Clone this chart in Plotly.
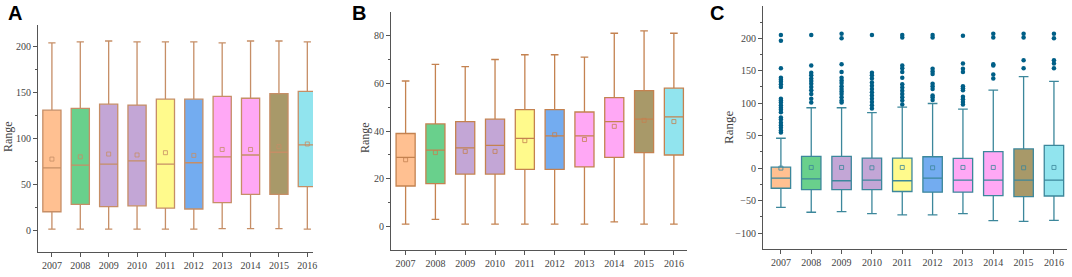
import plotly.graph_objects as go

years = ['2007', '2008', '2009', '2010', '2011', '2012', '2013', '2014', '2015', '2016']

# Panel A statistics
A_low = [1, 1, 1, 1, 1, 1, 1.5, 1.5, 1.5, 1]
A_q1 = [20, 28, 25.5, 26.5, 24, 23, 30, 39, 39, 47.5]
A_med = [68, 71, 72, 75.5, 72, 73.5, 80, 82, 85, 93]
A_q3 = [131, 133, 137.5, 136.5, 143, 143, 146, 144, 149, 151.5]
A_high = [204.5, 205.5, 206.5, 205.5, 205.5, 205.5, 204.5, 206.5, 206.5, 205.5]
A_mean = [77.5, 80, 83, 82, 84.5, 81.5, 88, 88, 91, 94]

# Panel B statistics
B_low = [1, 3, 1, 1, 1, 1, 1, 2, 1, 1]
B_q1 = [17, 18, 22, 22, 24, 24, 25, 29, 31, 30]
B_med = [29, 32, 33, 34, 37, 38, 38, 44, 45, 46]
B_q3 = [39, 43, 44, 45, 49, 49, 48, 54, 57, 58]
B_high = [61, 68, 67, 70, 72, 72, 71, 81, 82, 81]
B_mean = [28, 31, 31.5, 31.5, 36, 38.5, 36.5, 42, 44.5, 44]

# Panel C statistics
C_low = [-60.5, -68, -67, -70, -72, -72, -70, -81, -82, -80.5]
C_q1 = [-31, -33, -33, -33, -36, -37, -37, -42.5, -44, -43]
C_med = [-15.5, -16.5, -19.5, -18.5, -19.5, -15.5, -18.5, -18.5, -18.5, -18.5]
C_q3 = [1.5, 18, 18, 15.5, 15.5, 17.5, 15, 25.5, 29.5, 35]
C_high = [46, 93, 93, 85.5, 94, 99.5, 91, 120, 141, 133.5]
C_mean = [0, 1, 1, 0.5, 1, 0.5, 1, 1, 0.5, 1]
C_outliers = [
    [205, 196, 154, 139, 136, 133, 129, 125, 107, 104, 101, 97, 93, 90, 86, 78, 75, 70, 66, 62, 58, 55],
    [205, 158, 147, 143, 138, 134, 130, 125, 120, 114, 107, 101],
    [207, 200, 160, 148, 139, 135, 131, 126, 122, 118, 114, 109, 104, 101],
    [205, 147, 143, 138, 132, 127, 122, 117, 112, 107, 102, 97, 92],
    [205, 201, 158, 154, 148, 139, 129, 124, 119, 114, 109, 104, 98],
    [205, 201, 153, 149, 145, 130, 126, 122, 112, 109, 105],
    [204, 161, 153, 148, 126, 123, 120, 110, 106, 102, 98],
    [207, 201, 160, 158, 144, 138],
    [207, 201, 166, 154],
    [207, 200, 166, 161, 154],
]

fill_colors = ['rgb(255,192,145)', 'rgb(105,208,140)', 'rgb(195,166,214)', 'rgb(195,166,214)',
               'rgb(255,250,140)', 'rgb(115,172,240)', 'rgb(255,168,245)', 'rgb(255,168,245)',
               'rgb(168,153,105)', 'rgb(145,228,238)']

W, H = 1072, 277
def px_x(a, b):
    return [a / W, b / W]
def px_y(top, bottom):
    return [(H - bottom) / H, (H - top) / H]

fig = go.Figure()

panels = [
    ('x', 'y', A_low, A_q1, A_med, A_q3, A_high, A_mean, 'rgb(198,142,102)', 0.64, 0.4),
    ('x2', 'y2', B_low, B_q1, B_med, B_q3, B_high, B_mean, 'rgb(196,130,80)', 0.64, 0.4),
    ('x3', 'y3', C_low, C_q1, C_med, C_q3, C_high, C_mean, 'rgb(60,135,155)', 0.64, 0.5),
]

for xa, ya, lo, q1, md, q3, hi, mn, lc, bw, ww in panels:
    for i, yr in enumerate(years):
        fig.add_trace(go.Box(
            x=[yr], q1=[q1[i]], median=[md[i]], q3=[q3[i]],
            lowerfence=[lo[i]], upperfence=[hi[i]],
            fillcolor=fill_colors[i], line=dict(color=lc, width=1.3),
            width=bw, whiskerwidth=ww, xaxis=xa, yaxis=ya, showlegend=False,
            hoverinfo='skip'))
    fig.add_trace(go.Scatter(
        x=years, y=mn, mode='markers', xaxis=xa, yaxis=ya, showlegend=False,
        marker=dict(symbol='square-open', size=4, color=lc, line=dict(width=0.8)),
        hoverinfo='skip'))

# Outliers for C
ox, oy = [], []
for i, yr in enumerate(years):
    for v in C_outliers[i]:
        ox.append(yr)
        oy.append(v)
fig.add_trace(go.Scatter(x=ox, y=oy, mode='markers', xaxis='x3', yaxis='y3', showlegend=False,
                         marker=dict(size=4.5, color='rgb(0,95,135)'), hoverinfo='skip'))

tickfont = dict(family='Liberation Serif', size=10, color='#444')
axis_common = dict(showline=True, linecolor='#555', linewidth=1.2, ticks='outside', ticklen=4,
                   tickcolor='#555', showgrid=False, zeroline=False, tickfont=tickfont,
                   automargin=False)

def ytitle(x, y, size):
    return dict(text='Range', x=x / W, y=1 - y / H, xref='paper', yref='paper', showarrow=False,
                textangle=-90, xanchor='center', yanchor='middle',
                font=dict(family='Liberation Serif', size=size, color='#444'))

def letter(t, x, y):
    return dict(text='<b>' + t + '</b>', x=x / W, y=1 - y / H, xref='paper', yref='paper',
                showarrow=False, xanchor='center', yanchor='middle',
                font=dict(family='Liberation Sans', size=20, color='black'))

fig.update_layout(
    width=W, height=H, margin=dict(l=0, r=0, t=0, b=0, autoexpand=False),
    paper_bgcolor='white', plot_bgcolor='white', boxmode='overlay',
    xaxis=dict(domain=px_x(38, 313), type='category', categoryorder='array', categoryarray=years,
               range=[-0.49, 9.2], anchor='y', **axis_common),
    yaxis=dict(domain=px_y(25, 252), range=[-24, 224], tickvals=[0, 50, 100, 150, 200], anchor='x',
               minor=dict(ticks='outside', ticklen=2, dtick=25, tickcolor='#555'),
               **axis_common),
    xaxis2=dict(domain=px_x(391, 687), type='category', categoryorder='array', categoryarray=years,
                range=[-0.49, 9.44], anchor='y2', **axis_common),
    yaxis2=dict(domain=px_y(12, 250), range=[-9.8, 89.9], tickvals=[0, 20, 40, 60, 80], anchor='x2',
                minor=dict(ticks='outside', ticklen=2, dtick=10, tickcolor='#555'),
                **axis_common),
    xaxis3=dict(domain=px_x(763, 1067), type='category', categoryorder='array', categoryarray=years,
                range=[-0.59, 9.43], anchor='y3', **axis_common),
    yaxis3=dict(domain=px_y(6, 249), range=[-124.6, 249.7],
                tickvals=[-100, -50, 0, 50, 100, 150, 200, 250], anchor='x3',
                minor=dict(ticks='outside', ticklen=2, dtick=25, tickcolor='#555'),
                **axis_common),
    annotations=[
        ytitle(8, 137, 12), ytitle(365, 138, 12), ytitle(728, 128, 13),
        letter('A', 15, 13), letter('B', 359, 13), letter('C', 717, 13),
    ],
)

fig.write_html('out.html', config={'displayModeBar': False},
               post_script="document.body.style.margin='0';document.body.style.overflow='hidden';")
